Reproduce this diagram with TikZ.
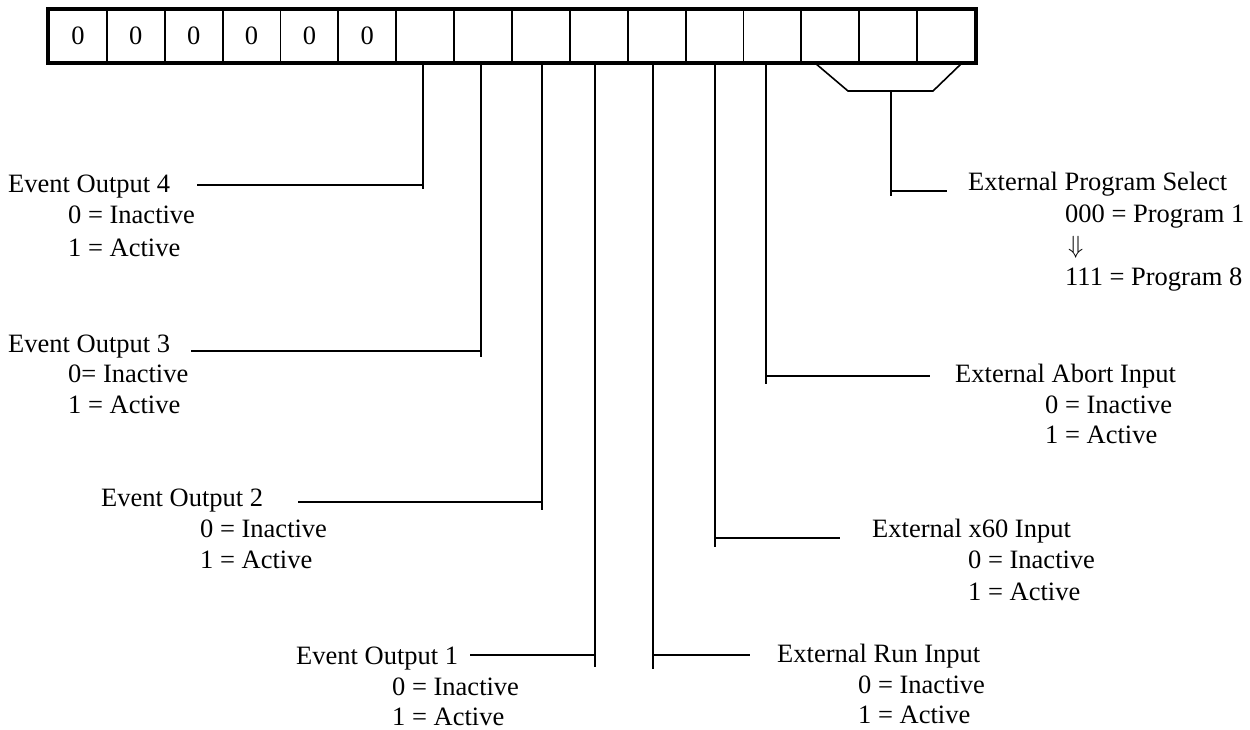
\documentclass[tikz,border=0pt]{standalone}
\usepackage{fontspec}
\setmainfont{Liberation Serif}
\begin{document}
\begin{tikzpicture}[x=1pt,y=-1pt,
  cell/.style={draw,line width=1.8pt,minimum width=57.875pt,minimum height=52pt,inner sep=0pt,anchor=center,font=\fontsize{26.5}{32}\selectfont},
  lbl/.style={anchor=base west,inner sep=0pt,font=\fontsize{26.5}{32}\selectfont},
  wire/.style={line width=1.6pt},
  frame/.style={line width=3.4pt}]
\useasboundingbox (0,0) rectangle (1250,729);
% register cells
\foreach \i/\t in {1/0,2/0,3/0,4/0,5/0,6/0,7/{},8/{},9/{},10/{},11/{},12/{},13/{},14/{},15/{},16/{}}{
  \node[cell] (c\i) at ({49+57.875*(\i-0.5)},36) {\t};
}
\draw[frame] (c1.north west) rectangle (c16.south east);
% tap points
\coordinate (t7) at (423,62);
\coordinate (t8) at (481,62);
\coordinate (t9) at (542,62);
\coordinate (t10) at (595,62);
\coordinate (t11) at (653,62);
\coordinate (t12) at (715,62);
\coordinate (t13) at (766,62);
% labels
\node[lbl] (eo4) at (8,192) {Event Output 4};
\node[lbl] (eo4a) at (68,223) {0 = Inactive};
\node[lbl] (eo4b) at (68,256) {1 = Active};
\node[lbl] (eo3) at (8,352) {Event Output 3};
\node[lbl] (eo3a) at (68,382) {0= Inactive};
\node[lbl] (eo3b) at (68,413) {1 = Active};
\node[lbl] (eo2) at (101,506) {Event Output 2};
\node[lbl] (eo2a) at (200,537) {0 = Inactive};
\node[lbl] (eo2b) at (200,568) {1 = Active};
\node[lbl] (eo1) at (296,664) {Event Output 1};
\node[lbl] (eo1a) at (392,695) {0 = Inactive};
\node[lbl] (eo1b) at (392,725) {1 = Active};
\node[lbl] (run) at (777,662) {External Run Input};
\node[lbl] (runa) at (858,693) {0 = Inactive};
\node[lbl] (runb) at (858,723) {1 = Active};
\node[lbl] (x60) at (872,537) {External x60 Input};
\node[lbl] (x60a) at (968,568) {0 = Inactive};
\node[lbl] (x60b) at (968,600) {1 = Active};
\node[lbl] (abt) at (955,382) {External Abort Input};
\node[lbl] (abta) at (1045,413) {0 = Inactive};
\node[lbl] (abtb) at (1045,443) {1 = Active};
\node[lbl] (prg) at (968,190) {External Program Select};
\node[lbl] (prga) at (1065,222) {000 = Program 1};
\node[lbl] (prgm) at (1068,253) {$\Downarrow$};
\node[lbl] (prgb) at (1065,285) {111 = Program 8};
% connectors
\draw[wire] (t7) -- (423,189);
\draw[wire] (197,185) -- (423,185);
\draw[wire] (t8) -- (481,357);
\draw[wire] (191,351) -- (481,351);
\draw[wire] (t9) -- (542,510);
\draw[wire] (298,502) -- (542,502);
\draw[wire] (t10) -- (595,667);
\draw[wire] (470,655) -- (595,655);
\draw[wire] (t11) -- (653,669);
\draw[wire] (653,655) -- (750,655);
\draw[wire] (t12) -- (715,547);
\draw[wire] (715,538) -- (840,538);
\draw[wire] (t13) -- (766,384);
\draw[wire] (766,376) -- (930,376);
% program select bracket
\coordinate (bl) at (815,63);
\coordinate (br) at (962,63);
\coordinate (bj) at (891,91);
\draw[wire] (bl) -- (848,91) -- (933,91) -- (br);
\draw[wire] (bj) -- (891,196);
\draw[wire] (891,191) -- (947,191);
\end{tikzpicture}
\end{document}
